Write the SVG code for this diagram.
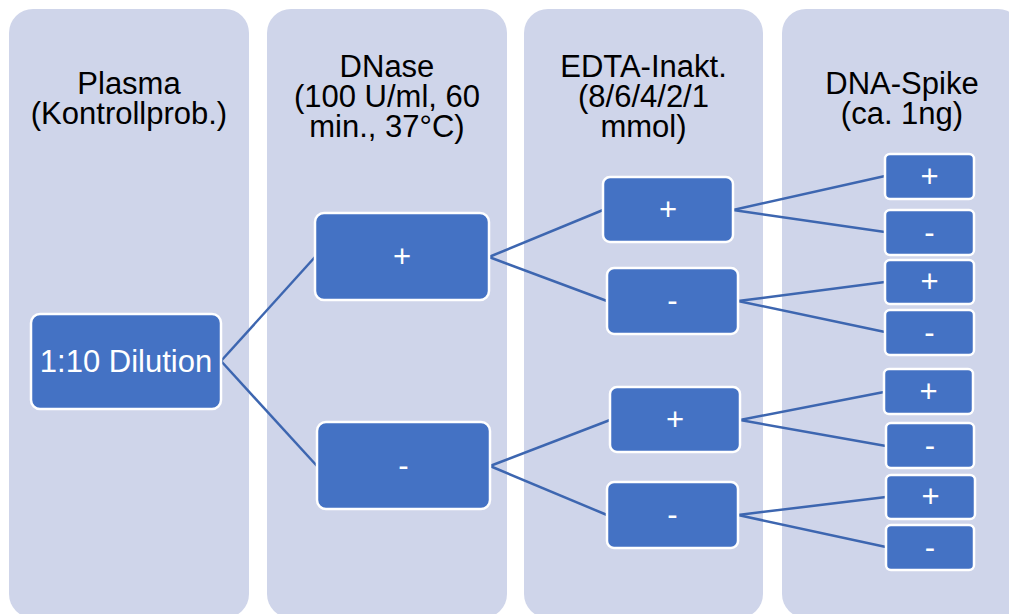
<svg xmlns="http://www.w3.org/2000/svg" width="1009" height="614" viewBox="0 0 1009 614">
<style>
.col{fill:#CFD5EA}
.hdr{font-family:"Liberation Sans",Arial,sans-serif;font-size:31px;fill:#000;text-anchor:middle}
.box{fill:#4472C4;stroke:#FFFFFF;stroke-width:2.5}
.lbl{font-family:"Liberation Sans",Arial,sans-serif;font-size:31px;fill:#FFFFFF;text-anchor:middle}
.con{stroke:#3D66B0;stroke-width:2.5;fill:none}
</style>
<rect width="1009" height="614" fill="#FFFFFF"/>
<g id="columns">
<g id="col1"><rect class="col" x="9" y="9" width="240" height="609" rx="24"/>
<text class="hdr" x="129" y="94">Plasma</text><text class="hdr" x="129" y="124">(Kontrollprob.)</text></g>
<g id="col2"><rect class="col" x="267" y="9" width="240" height="609" rx="24"/>
<text class="hdr" x="387" y="77">DNase</text><text class="hdr" x="387" y="107">(100 U/ml, 60</text><text class="hdr" x="387" y="137">min., 37°C)</text></g>
<g id="col3"><rect class="col" x="524" y="9" width="239" height="609" rx="24"/>
<text class="hdr" x="643.5" y="77">EDTA-Inakt.</text><text class="hdr" x="643.5" y="107">(8/6/4/2/1</text><text class="hdr" x="643.5" y="137">mmol)</text></g>
<g id="col4"><rect class="col" x="782" y="9" width="240" height="609" rx="24"/>
<text class="hdr" x="902" y="94">DNA-Spike</text><text class="hdr" x="902" y="124">(ca. 1ng)</text></g>
</g>
<g id="connectors">
<line class="con" x1="221" y1="361" x2="315" y2="257"/>
<line class="con" x1="221" y1="361" x2="317" y2="466"/>
<line class="con" x1="489" y1="257" x2="603" y2="210"/>
<line class="con" x1="489" y1="257" x2="607" y2="301"/>
<line class="con" x1="490" y1="466" x2="610" y2="420"/>
<line class="con" x1="490" y1="466" x2="607" y2="515"/>
<line class="con" x1="733" y1="210" x2="885" y2="176"/>
<line class="con" x1="733" y1="210" x2="885" y2="232"/>
<line class="con" x1="738" y1="301" x2="885" y2="282"/>
<line class="con" x1="738" y1="301" x2="885" y2="332"/>
<line class="con" x1="740" y1="420" x2="884" y2="392"/>
<line class="con" x1="740" y1="420" x2="886" y2="446"/>
<line class="con" x1="738" y1="515" x2="886" y2="497"/>
<line class="con" x1="738" y1="515" x2="886" y2="547"/>
</g>
<g id="n-dilution"><rect class="box" x="31" y="314" width="190" height="95" rx="9"/><text class="lbl" x="126" y="372">1:10 Dilution</text></g>
<g id="n-dnase-plus"><rect class="box" x="315" y="213" width="174" height="87" rx="9"/><text class="lbl" x="402" y="267">+</text></g>
<g id="n-dnase-minus"><rect class="box" x="317" y="422" width="173" height="87" rx="9"/><text class="lbl" x="403.5" y="476">-</text></g>
<g id="n-edta-1"><rect class="box" x="603" y="177" width="130" height="65" rx="7"/><text class="lbl" x="668" y="220">+</text></g>
<g id="n-edta-2"><rect class="box" x="607" y="268" width="131" height="66" rx="7"/><text class="lbl" x="672.5" y="311">-</text></g>
<g id="n-edta-3"><rect class="box" x="610" y="387" width="130" height="65" rx="7"/><text class="lbl" x="675" y="430">+</text></g>
<g id="n-edta-4"><rect class="box" x="607" y="482" width="131" height="66" rx="7"/><text class="lbl" x="672.5" y="525">-</text></g>
<g id="n-spike-1"><rect class="box" x="885" y="154" width="89" height="45" rx="5"/><text class="lbl" x="929.5" y="187">+</text></g>
<g id="n-spike-2"><rect class="box" x="885" y="210" width="89" height="45" rx="5"/><text class="lbl" x="929.5" y="243">-</text></g>
<g id="n-spike-3"><rect class="box" x="885" y="260" width="89" height="44" rx="5"/><text class="lbl" x="929.5" y="292">+</text></g>
<g id="n-spike-4"><rect class="box" x="885" y="310" width="89" height="45" rx="5"/><text class="lbl" x="929.5" y="343">-</text></g>
<g id="n-spike-5"><rect class="box" x="884" y="369" width="89" height="45" rx="5"/><text class="lbl" x="928.5" y="402">+</text></g>
<g id="n-spike-6"><rect class="box" x="886" y="423" width="88" height="45" rx="5"/><text class="lbl" x="930" y="456">-</text></g>
<g id="n-spike-7"><rect class="box" x="886" y="475" width="89" height="44" rx="5"/><text class="lbl" x="930.5" y="507">+</text></g>
<g id="n-spike-8"><rect class="box" x="886" y="525" width="88" height="45" rx="5"/><text class="lbl" x="930" y="558">-</text></g>
</svg>
